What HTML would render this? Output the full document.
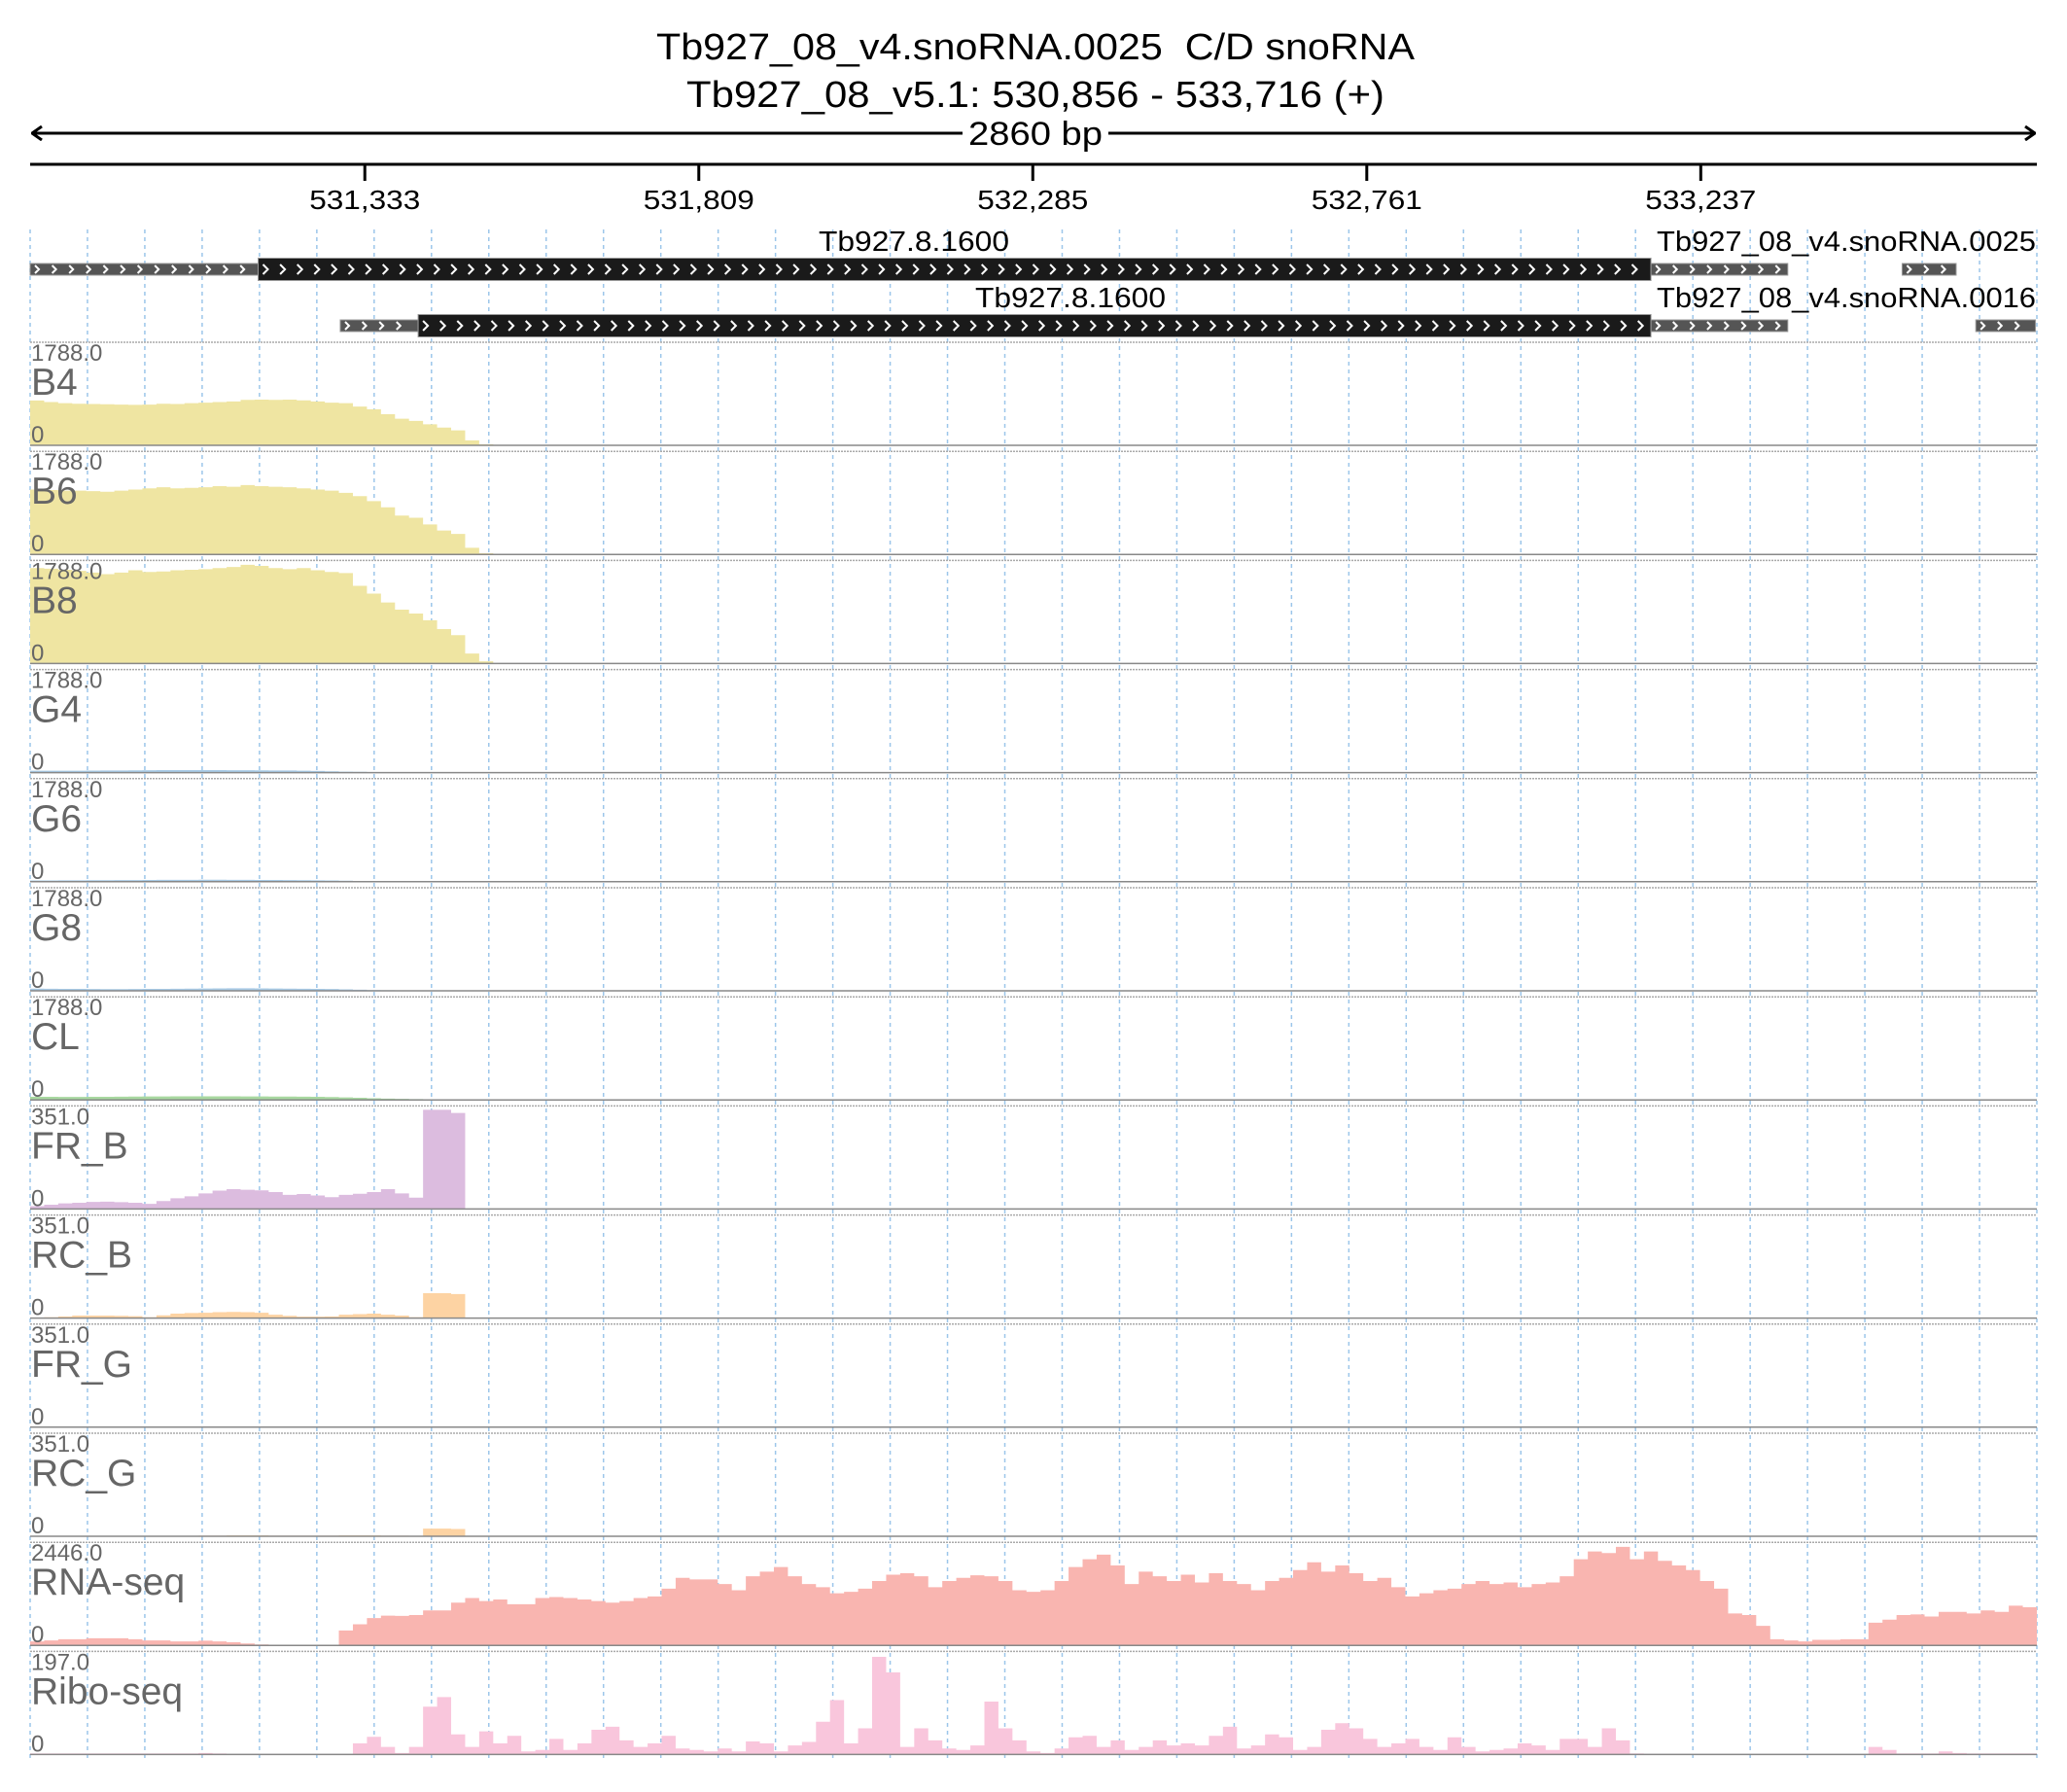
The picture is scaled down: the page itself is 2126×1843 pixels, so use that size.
<!DOCTYPE html>
<html><head><meta charset="utf-8"><style>
html,body{margin:0;padding:0;background:#fff;}
svg{display:block;font-family:"Liberation Sans",sans-serif;}
</style></head><body>
<svg id="chart" width="2126" height="1843" viewBox="0 0 2126 1843" xmlns="http://www.w3.org/2000/svg">
<defs>
<marker id="ah" markerWidth="12" markerHeight="16" refX="11" refY="8" orient="auto-start-reverse" markerUnits="userSpaceOnUse"><path d="M1 1 L11 8 L1 15" fill="none" stroke="#000" stroke-width="3"/></marker>
</defs>
<text x="1065" y="61" font-size="38" text-anchor="middle" fill="#000" textLength="780" lengthAdjust="spacingAndGlyphs" xml:space="preserve">Tb927_08_v4.snoRNA.0025  C/D snoRNA</text>
<text x="1065" y="110" font-size="38" text-anchor="middle" fill="#000" textLength="718" lengthAdjust="spacingAndGlyphs">Tb927_08_v5.1: 530,856 - 533,716 (+)</text>
<line x1="990" y1="137" x2="33" y2="137" stroke="#000" stroke-width="3" marker-end="url(#ah)"/>
<line x1="1140" y1="137" x2="2093" y2="137" stroke="#000" stroke-width="3" marker-end="url(#ah)"/>
<text x="1065" y="149" font-size="34" text-anchor="middle" fill="#000" textLength="138" lengthAdjust="spacingAndGlyphs">2860 bp</text>
<line x1="31" y1="169" x2="2095" y2="169" stroke="#000" stroke-width="3"/>
<g id="ticks"></g>
<g id="grid"></g>
<g id="genes"></g>
<g id="tracks"></g>
</svg>
<script>
const startBp = 530856;
const spanBp = 2860;
const tickValues = [531333, 531809, 532285, 532761, 533237];
const tickLabels = ["531,333", "531,809", "532,285", "532,761", "533,237"];
const binBp = 20;
const trackNames = ["B4","B6","B8","G4","G6","G8","CL","FR_B","RC_B","FR_G","RC_G","RNA-seq","Ribo-seq"];
const trackMax = [1788,1788,1788,1788,1788,1788,1788,351,351,351,351,2446,197];
const trackMaxLabels = ["1788.0","1788.0","1788.0","1788.0","1788.0","1788.0","1788.0","351.0","351.0","351.0","351.0","2446.0","197.0"];
const valuesB4 = [808,780,760,750,745,740,735,730,735,750,745,760,770,780,790,820,825,820,825,810,790,770,760,700,650,560,480,440,380,320,270,90,20];
const valuesB6 = [1170,1160,1150,1150,1140,1130,1150,1170,1190,1210,1190,1200,1210,1230,1220,1250,1230,1220,1210,1190,1170,1150,1110,1050,960,850,700,660,540,430,370,120,20];
const valuesB8 = [1720,1710,1690,1670,1640,1610,1640,1680,1650,1660,1680,1690,1700,1720,1740,1780,1760,1720,1700,1720,1680,1650,1630,1400,1260,1100,970,900,780,620,510,180,40];
const valuesG4 = [35,35,34,34,36,38,40,42,44,45,46,46,45,45,44,44,42,40,38,34,30,24,18,14,10,8,6,4,3,2,1];
const valuesG6 = [22,22,24,26,27,28,30,30,32,33,34,34,35,35,34,33,32,31,30,28,26,22,18,14,10,8,6,4,3,2,1];
const valuesG8 = [40,38,36,34,32,30,30,32,34,36,38,40,42,44,46,46,44,42,40,38,36,32,26,20,14,10,7,5,3,2,1];
const valuesCL = [55,55,54,54,55,56,58,60,62,63,64,64,65,65,64,63,62,61,60,58,56,52,46,38,30,24,18,14,10,7,5,3,2];
const valuesFRB = [10,15,20,22,25,26,24,22,18,28,38,45,55,65,70,68,66,60,50,53,48,42,50,54,60,70,55,40,351,351,340];
const valuesRCB = [2,3,6,9,9,9,8,7,3,10,16,18,19,21,22,21,19,12,8,5,5,6,12,14,16,12,9,3,88,88,85];
const valuesFRG = [];
const valuesRCG = [0,0,0,0,0,0,0,0,0,0,1,1,2,2,3,3,3,2,2,2,2,2,3,3,3,2,2,1,27,27,26];
const valuesRNA = [99,122,153,153,176,176,176,153,122,122,99,99,115,99,76,46,23,8,0,0,0,0,367,520,672,733,726,749,863,863,1054,1169,1093,1131,1016,1016,1169,1192,1169,1131,1093,1054,1093,1169,1207,1398,1666,1627,1627,1513,1360,1704,1818,1933,1704,1513,1436,1284,1322,1398,1589,1742,1780,1704,1436,1589,1666,1727,1704,1589,1360,1322,1360,1589,1933,2124,2239,1971,1513,1818,1704,1589,1742,1551,1780,1589,1513,1360,1589,1666,1857,2048,1818,1971,1780,1589,1666,1436,1207,1284,1360,1398,1513,1589,1513,1551,1436,1513,1551,1704,2124,2315,2277,2430,2124,2315,2086,1971,1857,1589,1398,787,749,481,153,122,99,138,138,153,153,558,634,749,764,711,825,825,787,863,825,978,940];
const valuesRibo = [2,2,2,2,2,2,2,2,2,2,2,2,3,2,1,1,1,1,1,1,1,1,1,22,35,15,3,15,95,114,40,15,46,22,37,6,9,31,9,22,49,55,28,15,22,37,12,9,6,12,6,26,22,6,18,25,65,108,22,52,194,163,15,52,28,12,9,18,105,52,28,6,3,12,34,37,15,28,9,15,28,18,22,18,37,55,12,18,40,34,9,15,49,62,52,31,15,22,31,15,9,34,15,6,9,12,22,18,9,31,31,15,52,28,2,1,1,1,1,1,1,1,1,1,1,1,1,1,1,1,1,15,9,2,2,2,6,3,2,2,2,2,2];
const trackValues = [valuesB4,valuesB6,valuesB8,valuesG4,valuesG6,valuesG8,valuesCL,valuesFRB,valuesRCB,valuesFRG,valuesRCG,valuesRNA,valuesRibo];
const trackColors = ["#efe5a2","#efe5a2","#efe5a2","#a9cbe6","#a9cbe6","#a9cbe6","#a8d8a0","#dcbcdf","#fdd3a3","#dcbcdf","#fdd3a3","#f9b5b0","#f9c6dc"];
// gene features (bp offsets from start)
const featStart = [0, 325, 2310, 2668, 442, 553, 2310, 2773];
const featEnd   = [325, 2310, 2505, 2745, 553, 2310, 2505, 2858];
const featRow   = [0, 0, 0, 0, 1, 1, 1, 1];
const featKind  = ["utr","cds","utr","utr","utr","cds","utr","utr"];

const NS = "http://www.w3.org/2000/svg";
const X0 = 31, X1 = 2095;
function xScale(bp){ return X0 + (bp) / spanBp * (X1 - X0); }
function mk(tag, attrs, parent){ const e = document.createElementNS(NS, tag); for (const k in attrs) e.setAttribute(k, attrs[k]); parent.appendChild(e); return e; }

const tg = document.getElementById('ticks');
tickValues.forEach((v,i)=>{
  const x = xScale(v - startBp);
  const l = mk('line',{x1:x,y1:169,x2:x,y2:186,stroke:'#000','stroke-width':3},tg);
  
  
  const t = mk('text',{x:x,y:215,'font-size':28,'text-anchor':'middle',fill:'#000',textLength:114,lengthAdjust:'spacingAndGlyphs'},tg);
  t.textContent = tickLabels[i];
  
  
});

const gg = document.getElementById('grid');
for (let j=0;j<=35;j++){
  const x = X0 + j*(X1-X0)/35;
  const l = mk('line',{x1:x,y1:236,x2:x,y2:1810,stroke:'#9cc6ea','stroke-width':1.5,'stroke-dasharray':'4 4'},gg);
  
  
}

const ge = document.getElementById('genes');
const rowY = [277, 335];
featStart.forEach((s,i)=>{
  const x1 = xScale(s), x2 = xScale(featEnd[i]);
  const cy = rowY[featRow[i]];
  const h = featKind[i]==='cds' ? 23 : 12;
  const r = mk('rect',{x:x1,y:cy-h/2,width:x2-x1,height:h,fill:featKind[i]==='cds'?'#1a1a1a':'#555',stroke:'#999','stroke-width':1},ge);
  
  
  let path = '';
  const sz = featKind[i]==='cds'?5:4;
  for (let x=x1+5; x<x2-5; x+=17.6){ path += `M${x.toFixed(1)} ${cy-sz} L${(x+sz).toFixed(1)} ${cy} L${x.toFixed(1)} ${cy+sz} `; }
  mk('path',{d:path,fill:'none',stroke:'#fff','stroke-width':2},ge);
});
const geneLabels = [["Tb927.8.1600",940,258,"middle",196],["Tb927.8.1600",1101,316,"middle",196],["Tb927_08_v4.snoRNA.0025",1704,258,"start",390],["Tb927_08_v4.snoRNA.0016",1704,316,"start",390]];
geneLabels.forEach(g=>{
  const t = mk('text',{x:g[1],y:g[2],'font-size':29,'text-anchor':g[3],fill:'#000',textLength:g[4],lengthAdjust:'spacingAndGlyphs'},ge);
  t.textContent = g[0];
  
  
});

const tr = document.getElementById('tracks');
const pitch = 112.2, top0 = 352, hBase = 106, hFull = 102;
trackNames.forEach((name,k)=>{
  const top = top0 + k*pitch, base = top + hBase;
  const g = mk('g',{},tr);
  
  
  mk('line',{x1:X0,y1:top,x2:X1,y2:top,stroke:'#aaa','stroke-width':1.5,'stroke-dasharray':'2 1'},g);
  const vals = trackValues[k];
  const bw = binBp/spanBp*(X1-X0);
  let d = '';
  vals.forEach((v,i)=>{
    const x = xScale(i*binBp);
    const h = Math.min(v/trackMax[k],1)*hFull;
    if (h>0) d += `M${x.toFixed(2)} ${base} V${(base-h).toFixed(2)} H${(x+bw).toFixed(2)} V${base} Z `;
  });
  const p = mk('path',{d:d,fill:trackColors[k],stroke:'none'},g);
  
  
  mk('line',{x1:X0,y1:base,x2:X1,y2:base,stroke:'#888','stroke-width':1.5},g);
  const t1 = mk('text',{x:X0+1,y:top+19,'font-size':24,fill:'#666'},g);
  t1.textContent = trackMaxLabels[k];
  
  
  const t2 = mk('text',{x:X0+1,y:top+54,'font-size':39,fill:'#666'},g);
  t2.textContent = name;
  
  
  const t3 = mk('text',{x:X0+1,y:top+103,'font-size':24,fill:'#666'},g);
  t3.textContent = '0';
  
  
});
</script>
</body></html>
